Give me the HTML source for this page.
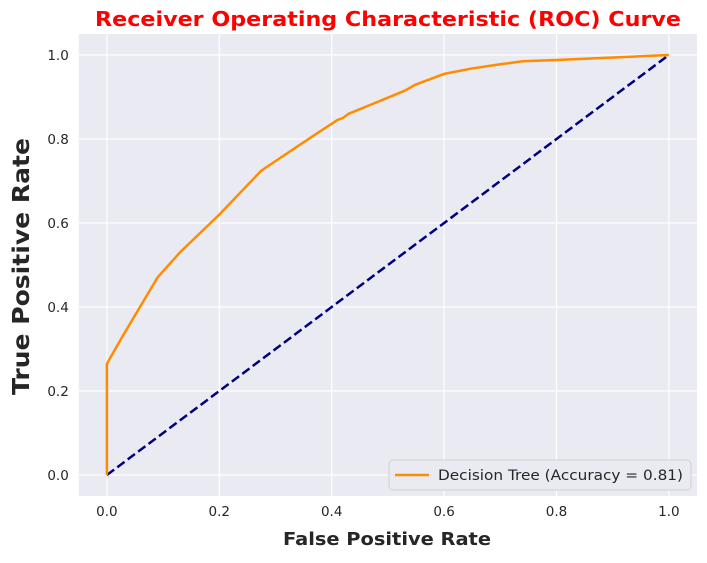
<!DOCTYPE html>
<html><head><meta charset="utf-8"><style>
body{margin:0;background:#fff;width:707px;height:559px;overflow:hidden;font-family:"DejaVu Sans","Liberation Sans",sans-serif}
svg text{font-family:"DejaVu Sans","Liberation Sans",sans-serif}
</style></head><body>
<svg id="chart" width="707" height="559" xmlns="http://www.w3.org/2000/svg"></svg>
<script>
const fprValues=[0,0,0.03,0.09,0.13,0.2,0.275,0.37,0.41,0.42,0.43,0.53,0.55,0.6,0.65,0.7,0.74,0.8,1];
const tprValues=[0,0.265,0.335,0.47,0.53,0.62,0.725,0.81,0.845,0.85,0.86,0.915,0.93,0.955,0.968,0.978,0.985,0.988,1];
const diagX=[0,1];
const diagY=[0,1];
const xTicks=[0,0.2,0.4,0.6,0.8,1.0];
const yTicks=[0,0.2,0.4,0.6,0.8,1.0];
const accuracyLabel="0.81";

const L=78.8,R=697,T=34,B=496;
const xs=v=>L+(v+0.05)/1.1*(R-L);
const ys=v=>B-(v+0.05)/1.1*(B-T);
const svg=document.getElementById('chart');
const NS='http://www.w3.org/2000/svg';
function mk(tag,attrs,parent){const e=document.createElementNS(NS,tag);for(const k in attrs)e.setAttribute(k,attrs[k]);(parent||svg).appendChild(e);return e;}

const bg=mk('rect',{x:L,y:T,width:R-L,height:B-T,fill:'#eaeaf2'});



xTicks.forEach(t=>{
  const g=mk('line',{x1:xs(t),x2:xs(t),y1:T,y2:B,stroke:'#fff','stroke-width':1.2});
  
  
  const tx=mk('text',{x:xs(t),y:B+20,'text-anchor':'middle','font-size':13.5,fill:'#262626'});
  tx.textContent=t.toFixed(1);
  
  
});
yTicks.forEach(t=>{
  const g=mk('line',{x1:L,x2:R,y1:ys(t),y2:ys(t),stroke:'#fff','stroke-width':1.2});
  
  
  const tx=mk('text',{x:L-10,y:ys(t)+5,'text-anchor':'end','font-size':13.5,fill:'#262626'});
  tx.textContent=t.toFixed(1);
  
  
});

const diag=mk('polyline',{points:diagX.map((x,i)=>xs(x)+','+ys(diagY[i])).join(' '),fill:'none',stroke:'#000080','stroke-width':2.5,'stroke-dasharray':'9,4'});



const roc=mk('polyline',{points:fprValues.map((x,i)=>xs(x)+','+ys(tprValues[i])).join(' '),fill:'none',stroke:'#ff8c00','stroke-width':2.5,'stroke-linejoin':'round'});



const title=mk('text',{x:95,y:26,'font-size':20,'font-weight':'bold',fill:'#ff0000',textLength:586,lengthAdjust:'spacingAndGlyphs'});
title.textContent='Receiver Operating Characteristic (ROC) Curve';



const xl=mk('text',{x:283,y:545,'font-size':18,'font-weight':'bold',fill:'#262626',textLength:208,lengthAdjust:'spacingAndGlyphs'});
xl.textContent='False Positive Rate';



const yl=mk('text',{x:0,y:0,'font-size':23,'font-weight':'bold',fill:'#262626',textLength:257,lengthAdjust:'spacingAndGlyphs',transform:'translate(29,395) rotate(-90)'});
yl.textContent='True Positive Rate';



const leg=mk('g',{});


mk('rect',{x:389,y:460,width:302,height:30,rx:4,fill:'#eaeaf2',stroke:'#d0d0d0','stroke-width':1},leg);
const ll=mk('line',{x1:395,x2:429,y1:475,y2:475,stroke:'#ff8c00','stroke-width':2.5},leg);


const lt=mk('text',{x:438,y:480,'font-size':14,fill:'#262626',textLength:245,lengthAdjust:'spacingAndGlyphs'},leg);
lt.textContent='Decision Tree (Accuracy = '+accuracyLabel+')';


</script>
</body></html>
